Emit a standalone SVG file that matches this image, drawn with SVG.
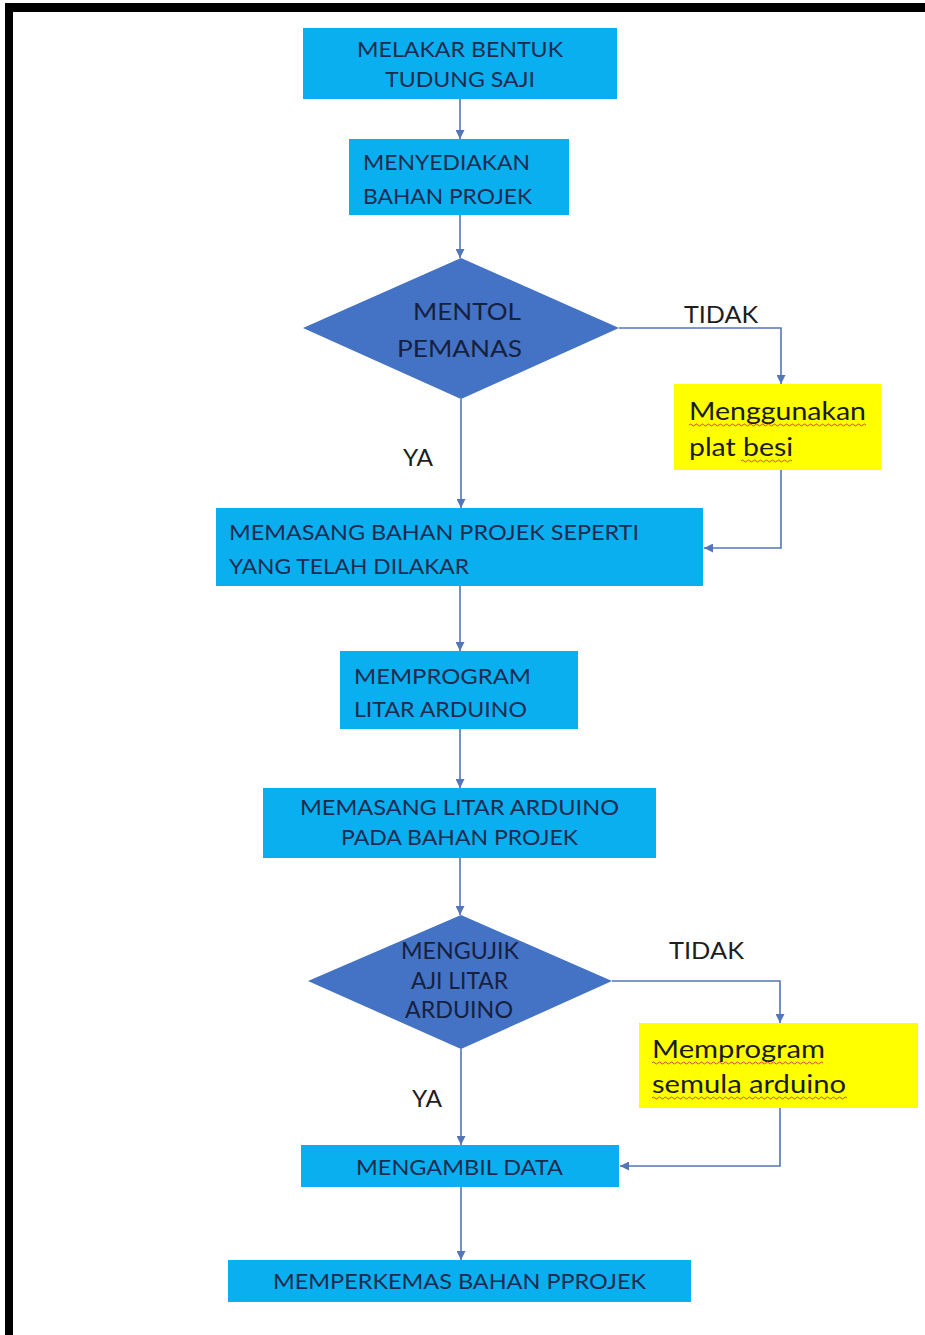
<svg xmlns="http://www.w3.org/2000/svg" width="925" height="1335" viewBox="0 0 925 1335">
<style>
.box{fill:#0AAFEF;}
.dia{fill:#4472C4;}
.yel{fill:#FFFF00;}
.t{font-family:Lato,"Open Sans","Liberation Sans",sans-serif;font-size:22px;fill:#1C2B4F;}
.td{font-family:Lato,"Open Sans","Liberation Sans",sans-serif;font-size:24px;fill:#16213F;}
.ty{font-family:Lato,"Open Sans","Liberation Sans",sans-serif;font-size:25px;fill:#1A1A1A;}
.lbl{font-family:Lato,"Open Sans","Liberation Sans",sans-serif;font-size:24px;fill:#1E1E1E;}
.c{fill:none;stroke:#5476B8;stroke-width:1.6;marker-end:url(#ah);}
.wv{fill:none;stroke:#E0403A;stroke-width:1;}
</style>
<defs>
<marker id="ah" viewBox="0 0 10 10" refX="10" refY="5" markerWidth="9" markerHeight="9" markerUnits="userSpaceOnUse" orient="auto">
<path d="M0,0 L10,5 L0,10 z" fill="#5476B8"/>
</marker>
</defs>
<rect x="0" y="0" width="925" height="1335" fill="#FFFFFF"/>
<g id="frame">
<rect x="5" y="3" width="920" height="9" fill="#000"/>
<rect x="5" y="3" width="8" height="1332" fill="#000"/>
</g>
<g id="connectors">
<path class="c" d="M460,99 V139"/>
<path class="c" d="M460,215 V258"/>
<path class="c" d="M461,399 V508"/>
<path class="c" d="M619,328 H781 V384"/>
<path class="c" d="M781,470 V548 H704"/>
<path class="c" d="M460,586 V651"/>
<path class="c" d="M460,729 V788"/>
<path class="c" d="M460,858 V915"/>
<path class="c" d="M461,1049 V1145"/>
<path class="c" d="M612,981 H780 V1023"/>
<path class="c" d="M780,1108 V1166 H620"/>
<path class="c" d="M461,1187 V1260"/>
</g>
<g id="labels">
<text class="lbl" x="684" y="323" textLength="74" lengthAdjust="spacingAndGlyphs">TIDAK</text>
<text class="lbl" x="403" y="466" textLength="30" lengthAdjust="spacingAndGlyphs">YA</text>
<text class="lbl" x="669" y="959" textLength="75" lengthAdjust="spacingAndGlyphs">TIDAK</text>
<text class="lbl" x="412" y="1107" textLength="30" lengthAdjust="spacingAndGlyphs">YA</text>
</g>
<g id="n1">
<rect class="box" x="303" y="28" width="314" height="71"/>
<text class="t" x="357" y="57" textLength="206" lengthAdjust="spacingAndGlyphs">MELAKAR BENTUK</text>
<text class="t" x="385" y="87" textLength="150" lengthAdjust="spacingAndGlyphs">TUDUNG SAJI</text>
</g>
<g id="n2">
<rect class="box" x="349" y="139" width="220" height="76"/>
<text class="t" x="363" y="170" textLength="167" lengthAdjust="spacingAndGlyphs">MENYEDIAKAN</text>
<text class="t" x="363" y="204" textLength="169" lengthAdjust="spacingAndGlyphs">BAHAN PROJEK</text>
</g>
<g id="n3">
<polygon class="dia" points="461,258 619,328 461,399 303,328"/>
<text class="td" x="413" y="320" textLength="108" lengthAdjust="spacingAndGlyphs">MENTOL</text>
<text class="td" x="397" y="357" textLength="125" lengthAdjust="spacingAndGlyphs">PEMANAS</text>
</g>
<g id="n4">
<rect class="yel" x="674" y="384" width="207" height="86"/>
<text class="ty" x="689" y="420" textLength="177" lengthAdjust="spacingAndGlyphs">Menggunakan</text>
<text class="ty" x="689" y="456" textLength="104" lengthAdjust="spacingAndGlyphs">plat besi</text>
<path class="wv" d="M689,425 q1.5,-2 3,0 t3,0 t3,0 t3,0 t3,0 t3,0 t3,0 t3,0 t3,0 t3,0 t3,0 t3,0 t3,0 t3,0 t3,0 t3,0 t3,0 t3,0 t3,0 t3,0 t3,0 t3,0 t3,0 t3,0 t3,0 t3,0 t3,0 t3,0 t3,0 t3,0 t3,0 t3,0 t3,0 t3,0 t3,0 t3,0 t3,0 t3,0 t3,0 t3,0 t3,0 t3,0 t3,0 t3,0 t3,0 t3,0 t3,0 t3,0 t3,0 t3,0 t3,0 t3,0 t3,0 t3,0 t3,0 t3,0 t3,0 t3,0 t3,0"/>
<path class="wv" d="M741,461 q1.5,-2 3,0 t3,0 t3,0 t3,0 t3,0 t3,0 t3,0 t3,0 t3,0 t3,0 t3,0 t3,0 t3,0 t3,0 t3,0 t3,0 t3,0"/>
</g>
<g id="n5">
<rect class="box" x="216" y="508" width="487" height="78"/>
<text class="t" x="229" y="540" textLength="410" lengthAdjust="spacingAndGlyphs">MEMASANG BAHAN PROJEK SEPERTI</text>
<text class="t" x="229" y="574" textLength="240" lengthAdjust="spacingAndGlyphs">YANG TELAH DILAKAR</text>
</g>
<g id="n6">
<rect class="box" x="340" y="651" width="238" height="78"/>
<text class="t" x="354" y="684" textLength="177" lengthAdjust="spacingAndGlyphs">MEMPROGRAM</text>
<text class="t" x="354" y="717" textLength="173" lengthAdjust="spacingAndGlyphs">LITAR ARDUINO</text>
</g>
<g id="n7">
<rect class="box" x="263" y="788" width="393" height="70"/>
<text class="t" x="300" y="815" textLength="319" lengthAdjust="spacingAndGlyphs">MEMASANG LITAR ARDUINO</text>
<text class="t" x="341" y="845" textLength="237" lengthAdjust="spacingAndGlyphs">PADA BAHAN PROJEK</text>
</g>
<g id="n8">
<polygon class="dia" points="461,915 612,981 461,1049 308,981"/>
<text class="td" x="401" y="959" textLength="118" lengthAdjust="spacingAndGlyphs">MENGUJIK</text>
<text class="td" x="411" y="989" textLength="97" lengthAdjust="spacingAndGlyphs">AJI LITAR</text>
<text class="td" x="405" y="1018" textLength="108" lengthAdjust="spacingAndGlyphs">ARDUINO</text>
</g>
<g id="n9">
<rect class="yel" x="639" y="1023" width="279" height="85"/>
<text class="ty" x="652" y="1058" textLength="173" lengthAdjust="spacingAndGlyphs">Memprogram</text>
<text class="ty" x="652" y="1093" textLength="194" lengthAdjust="spacingAndGlyphs">semula arduino</text>
<path class="wv" d="M652,1063 q1.5,-2 3,0 t3,0 t3,0 t3,0 t3,0 t3,0 t3,0 t3,0 t3,0 t3,0 t3,0 t3,0 t3,0 t3,0 t3,0 t3,0 t3,0 t3,0 t3,0 t3,0 t3,0 t3,0 t3,0 t3,0 t3,0 t3,0 t3,0 t3,0 t3,0 t3,0 t3,0 t3,0 t3,0 t3,0 t3,0 t3,0 t3,0 t3,0 t3,0 t3,0 t3,0 t3,0 t3,0 t3,0 t3,0 t3,0 t3,0 t3,0 t3,0 t3,0 t3,0 t3,0 t3,0 t3,0 t3,0 t3,0 t3,0"/>
<path class="wv" d="M652,1098 q1.5,-2 3,0 t3,0 t3,0 t3,0 t3,0 t3,0 t3,0 t3,0 t3,0 t3,0 t3,0 t3,0 t3,0 t3,0 t3,0 t3,0 t3,0 t3,0 t3,0 t3,0 t3,0 t3,0 t3,0 t3,0 t3,0 t3,0 t3,0 t3,0 t3,0 t3,0 t3,0 t3,0 t3,0 t3,0 t3,0 t3,0 t3,0 t3,0 t3,0 t3,0 t3,0 t3,0 t3,0 t3,0 t3,0 t3,0 t3,0 t3,0 t3,0 t3,0 t3,0 t3,0 t3,0 t3,0 t3,0 t3,0 t3,0 t3,0 t3,0 t3,0 t3,0 t3,0 t3,0 t3,0 t3,0"/>
</g>
<g id="n10">
<rect class="box" x="301" y="1145" width="318" height="42"/>
<text class="t" x="356" y="1175" textLength="207" lengthAdjust="spacingAndGlyphs">MENGAMBIL DATA</text>
</g>
<g id="n11">
<rect class="box" x="228" y="1260" width="463" height="42"/>
<text class="t" x="273" y="1289" textLength="373" lengthAdjust="spacingAndGlyphs">MEMPERKEMAS BAHAN PPROJEK</text>
</g>
</svg>
